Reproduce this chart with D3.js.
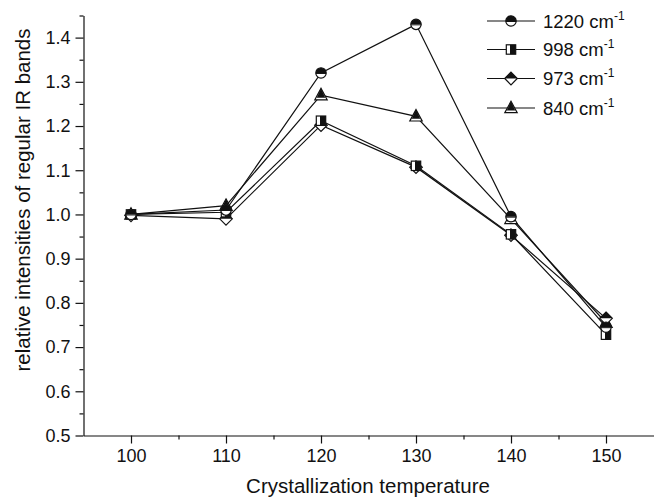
<!DOCTYPE html>
<html>
<head>
<meta charset="utf-8">
<script src="https://cdn.jsdelivr.net/npm/d3@7"></script>
<style>
  html, body { margin: 0; padding: 0; background: #fff; }
  svg { display: block; font-family: "Liberation Sans", Arial, sans-serif; }
</style>
</head>
<body>
<svg id="chart" width="654" height="500"></svg>
<script>
// ---- data ----
const temperatures = [100, 110, 120, 130, 140, 150];
const s1220 = [1.000, 1.010, 1.320, 1.430, 0.995, 0.745];
const s998  = [1.000, 1.005, 1.212, 1.110, 0.955, 0.728];
const s973  = [0.998, 0.990, 1.202, 1.107, 0.953, 0.765];
const s840  = [1.000, 1.020, 1.270, 1.222, 0.990, 0.755];
const seriesNames = ["1220", "998", "973", "840"];
const seriesMarkers = ["circle", "square", "diamond", "triangle"];
const xTicks = [100, 110, 120, 130, 140, 150];
const yTicks = [0.5, 0.6, 0.7, 0.8, 0.9, 1.0, 1.1, 1.2, 1.3, 1.4];

const series = [s1220, s998, s973, s840].map((vals, i) => ({
  name: seriesNames[i], marker: seriesMarkers[i],
  points: vals.map((v, j) => ({ x: temperatures[j], y: v }))
}));

const svg = d3.select("#chart");
const x = d3.scaleLinear().domain([95, 155]).range([83.5, 653.5]);
const y = d3.scaleLinear().domain([0.5, 1.45]).range([435.5, 15.5]);

// minor ticks
const xMinor = d3.range(105, 155, 10);
const yMinor = d3.range(0.55, 1.46, 0.1);

const axisG = svg.append("g");
// x axis
axisG.append("g").attr("transform", `translate(0,${y(0.5)})`)
  .call(d3.axisBottom(x).tickValues(xMinor).tickSize(4).tickFormat(""))
  .call(g => g.select(".domain").remove());
axisG.append("g").attr("transform", `translate(0,${y(0.5)})`)
  .call(d3.axisBottom(x).tickValues(xTicks).tickSize(8).tickSizeOuter(0).tickPadding(6).tickFormat(d3.format("d")))
  .call(g => g.selectAll("text").attr("font-size", 18).attr("fill", "#111"));
// y axis
axisG.append("g").attr("transform", `translate(${x(95)},0)`)
  .call(d3.axisLeft(y).tickValues(yMinor).tickSize(4).tickFormat(""))
  .call(g => g.select(".domain").remove());
axisG.append("g").attr("transform", `translate(${x(95)},0)`)
  .call(d3.axisLeft(y).tickValues(yTicks).tickSize(8).tickSizeOuter(0).tickPadding(5).tickFormat(d3.format(".1f")))
  .call(g => g.selectAll("text").attr("font-size", 18).attr("fill", "#111"));
axisG.selectAll("path.domain, line").attr("stroke", "#111").attr("stroke-width", 1.2);

// axis titles
svg.append("text").attr("x", 368).attr("y", 493).attr("text-anchor", "middle")
  .attr("font-size", 20.5).attr("fill", "#111").text("Crystallization temperature");
svg.append("text").attr("transform", `translate(30,200) rotate(-90)`).attr("text-anchor", "middle")
  .attr("font-size", 20.5).attr("fill", "#111").text("relative intensities of regular IR bands");

// marker drawing
function drawMarker(g, type, cx, cy) {
  const r = 5.2;
  const m = g.append("g").attr("transform", `translate(${cx},${cy})`);
  if (type === "circle") {
    m.append("circle").attr("r", r).attr("fill", "#fff").attr("stroke", "#111").attr("stroke-width", 1.2);
    m.append("path").attr("d", `M${-r},0 A${r},${r} 0 0 1 ${r},0 Z`).attr("fill", "#111");
    m.append("line").attr("x1", -r).attr("x2", r).attr("y1", 0.5).attr("y2", 0.5).attr("stroke", "#111").attr("stroke-width", 1);
  } else if (type === "square") {
    const s = 4.7;
    m.append("rect").attr("x", -s).attr("y", -s).attr("width", 2 * s).attr("height", 2 * s)
      .attr("fill", "#fff").attr("stroke", "#111").attr("stroke-width", 1.2);
    m.append("rect").attr("x", -1).attr("y", -s).attr("width", s + 1).attr("height", 2 * s).attr("fill", "#111");
  } else if (type === "diamond") {
    const d = 6.3;
    m.append("path").attr("d", `M0,${-d} L${d},0 L0,${d} L${-d},0 Z`)
      .attr("fill", "#fff").attr("stroke", "#111").attr("stroke-width", 1.2);
    m.append("path").attr("d", `M0,${-d} L${d},0 L${-d},0 Z`).attr("fill", "#111");
  } else if (type === "triangle") {
    const h = 5.7;
    m.append("path").attr("d", `M0,${-h - 1} L${h + 0.5},${h - 1} L${-h - 0.5},${h - 1} Z`)
      .attr("fill", "#fff").attr("stroke", "#111").attr("stroke-width", 1.2);
    m.append("path").attr("d", `M0,${-h - 1} L${h * 0.75},${h * 0.45} L${-h * 0.75},${h * 0.45} Z`).attr("fill", "#111");
  }
}

// lines
const line = d3.line().x(d => x(d.x)).y(d => y(d.y));
const plot = svg.append("g");
series.forEach(s => {
  plot.append("path").datum(s.points).attr("d", line)
    .attr("fill", "none").attr("stroke", "#111").attr("stroke-width", 1.2);
});
series.slice().reverse().forEach(s => {
  s.points.forEach(p => drawMarker(plot, s.marker, x(p.x), y(p.y)));
});

// legend
const legendY = [21, 49.5, 78.5, 108];
series.forEach((s, i) => {
  const g = svg.append("g").attr("transform", `translate(0,${legendY[i]})`);
  g.append("line").attr("x1", 487).attr("x2", 535).attr("y1", 0).attr("y2", 0)
    .attr("stroke", "#111").attr("stroke-width", 1.2);
  drawMarker(g, s.marker, 511, 0);
  const t = g.append("text").attr("x", 543).attr("y", 6.5).attr("font-size", 18.5).attr("fill", "#111");
  t.append("tspan").text(s.name + " cm");
  t.append("tspan").attr("font-size", 12).attr("dy", -8).text("-1");
});
</script>
</body>
</html>
